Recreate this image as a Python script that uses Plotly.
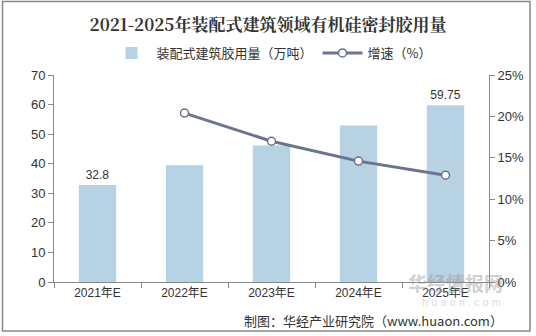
import plotly.graph_objects as go

categories = ["2021年E", "2022年E", "2023年E", "2024年E", "2025年E"]
usage = [32.8, 39.5, 46.2, 52.9, 59.75]
usage_labels = ["32.8", "", "", "", "59.75"]
growth_cats = ["2022年E", "2023年E", "2024年E", "2025年E"]
growth = [20.4, 17.0, 14.6, 12.9]

W, H = 536, 336
L, R, T, B = 54, 47, 75, 54
pw, ph = W - L - R, H - T - B

def px(x):
    return (x - L) / pw

def py(y):
    return (H - B - y) / ph

font = "Liberation Sans, Noto Sans CJK SC, Arial"

fig = go.Figure()
fig.add_trace(go.Bar(
    x=categories, y=usage, name="装配式建筑胶用量（万吨）",
    marker=dict(color="#b7d2e2", line=dict(width=0)),
    width=0.43, text=usage_labels, textposition="outside",
    textfont=dict(size=12, color="#333333"), cliponaxis=False,
))
fig.add_trace(go.Scatter(
    x=growth_cats, y=growth, name="增速（%）", yaxis="y2",
    mode="lines+markers",
    line=dict(color="#6a7492", width=3),
    marker=dict(color="white", size=8, line=dict(color="#6a7492", width=1.5)),
))

fig.update_layout(
    width=W, height=H,
    margin=dict(l=L, r=R, t=T, b=B),
    paper_bgcolor="white", plot_bgcolor="white",
    font=dict(family=font, size=12, color="#333333"),
    title=dict(text="<b>2021-2025年装配式建筑领域有机硅密封胶用量</b>",
               x=0.5, xanchor="center", y=1 - 25 / H, yanchor="middle",
               font=dict(size=17, color="#333333", family="Noto Serif CJK SC, Noto Sans CJK SC")),
    legend=dict(orientation="h", x=0.5, xanchor="center", y=py(53), yanchor="middle",
                font=dict(size=13, color="#333333", family="Noto Sans CJK SC"), itemwidth=40,
                bgcolor="rgba(0,0,0,0)"),
    bargap=0.57,
    xaxis=dict(showline=True, linecolor="#888888", linewidth=1,
               ticks="outside", tickson="boundaries", ticklen=5, tickcolor="#888888",
               tickfont=dict(size=12, color="#333333"), showgrid=False),
    yaxis=dict(range=[0, 70], dtick=10, showline=True, linecolor="#888888",
               ticks="outside", ticklen=5, tickcolor="#888888", showgrid=False,
               zeroline=False, tickfont=dict(size=13, color="#333333")),
    yaxis2=dict(range=[0, 25], dtick=5, ticksuffix="%", overlaying="y", side="right",
                showline=True, linecolor="#888888", ticks="outside", ticklen=5,
                tickcolor="#888888", showgrid=False, zeroline=False,
                tickfont=dict(size=13, color="#333333")),
    shapes=[dict(type="rect", xref="paper", yref="paper",
                 x0=px(2.5), x1=px(530), y0=py(331), y1=py(1.5),
                 line=dict(color="#888888", width=1.5), fillcolor="rgba(0,0,0,0)",
                 layer="below")],
    annotations=[
        dict(text="制图：华经产业研究院（www.huaon.com）", xref="paper", yref="paper",
             x=px(505), y=py(320), xanchor="right", yanchor="middle", showarrow=False,
             font=dict(size=13, color="#333333", family="Noto Sans CJK SC")),
        dict(text="<b>华经情报网</b>", xref="paper", yref="paper",
             x=px(505), y=py(282), xanchor="right", yanchor="middle", showarrow=False,
             font=dict(size=19, color="rgba(150,150,150,0.45)", family="Noto Sans CJK SC")),
        dict(text="h u a o n . c o m", xref="paper", yref="paper",
             x=px(503), y=py(302), xanchor="right", yanchor="middle", showarrow=False,
             font=dict(size=11, color="rgba(180,180,180,0.5)")),
    ],
)

fig.write_html("out.html")
